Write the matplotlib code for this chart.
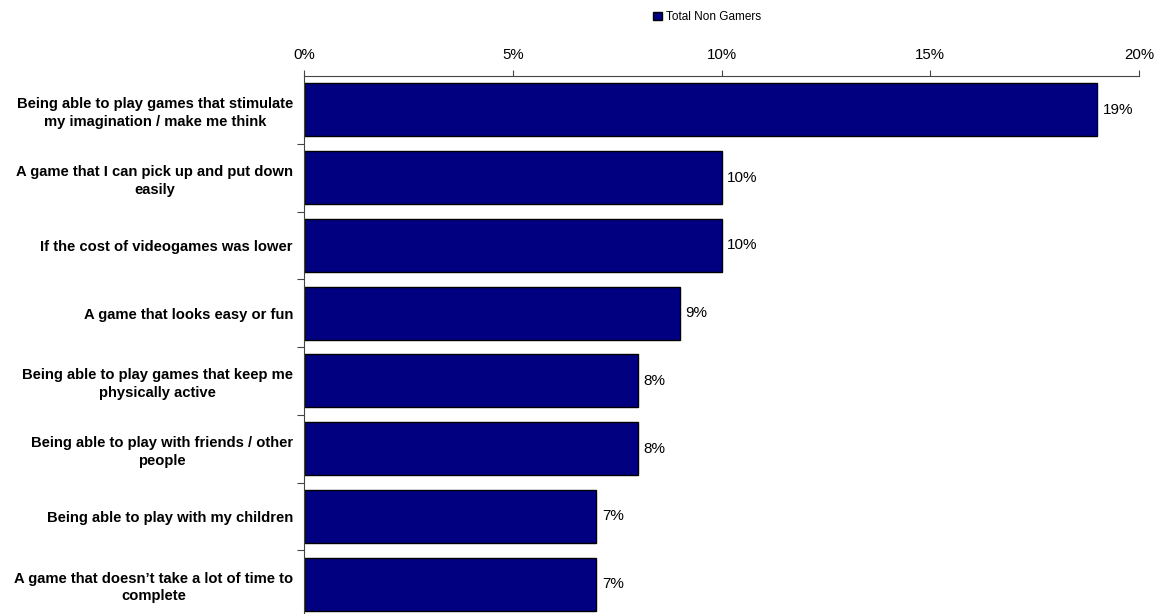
import matplotlib
matplotlib.use("Agg")
import matplotlib.pyplot as plt
from matplotlib.ticker import FixedLocator, FuncFormatter
import numpy as np

categories = [
    "Being able to play games that stimulate\nmy imagination / make me think",
    "A game that I can pick up and put down\neasily",
    "If the cost of videogames was lower",
    "A game that looks easy or fun",
    "Being able to play games that keep me\nphysically active",
    "Being able to play with friends / other\npeople",
    "Being able to play with my children",
    "A game that doesn\u2019t take a lot of time to\ncomplete",
]
values = [19, 10, 10, 9, 8, 8, 7, 7]
value_labels = ["19%", "10%", "10%", "9%", "8%", "8%", "7%", "7%"]
series_name = "Total Non Gamers"
x_ticks = [0, 5, 10, 15, 20]

plt.rcParams['font.family'] = ['Liberation Sans', 'DejaVu Sans']

fig = plt.figure(figsize=(11.58, 6.14), dpi=100)
ax = fig.add_axes([304/1158, -4/614, (1139-304)/1158, (618-76)/614])

y = np.arange(len(categories))
bars = ax.barh(y, values, height=0.78, color="#000080", edgecolor="black",
               linewidth=1.0, label=series_name)
ax.set_ylim(len(categories) - 0.5, -0.5)
ax.set_xlim(0, 20)

ax.xaxis.tick_top()
ax.set_xticks(x_ticks)
ax.xaxis.set_major_formatter(FuncFormatter(lambda v, p: f"{v:.0f}%"))
ax.tick_params(axis='x', direction='out', length=4, width=0.8, colors='#444444',
               labelcolor='black', labelsize=10.8, pad=6)

ax.set_yticks(y)
ax.set_yticklabels(categories, fontsize=10.6, fontweight='bold',
                   multialignment='center', linespacing=1.32)
ax.tick_params(axis='y', which='major', length=0, pad=8)
ax.yaxis.set_minor_locator(FixedLocator(np.arange(0.5, len(categories) - 0.5, 1)))
ax.tick_params(axis='y', which='minor', direction='out', length=5, width=0.8, colors='#444444')

for s in ['right', 'bottom']:
    ax.spines[s].set_visible(False)
for s in ['top', 'left']:
    ax.spines[s].set_color('#444444')
    ax.spines[s].set_linewidth(0.8)

for b, lab in zip(bars, value_labels):
    ax.annotate(lab, (b.get_width(), b.get_y() + b.get_height() / 2),
                xytext=(4, 0), textcoords='offset points', va='center', ha='left',
                fontsize=11)

fig.legend(handles=[bars], labels=[series_name], loc='center',
           bbox_to_anchor=(707/1158, 1 - 17/614), frameon=False, fontsize=8.5,
           handlelength=0.75, handleheight=0.75, handletextpad=0.3,
           borderpad=0, borderaxespad=0)

fig.savefig("out.png", dpi=100)
